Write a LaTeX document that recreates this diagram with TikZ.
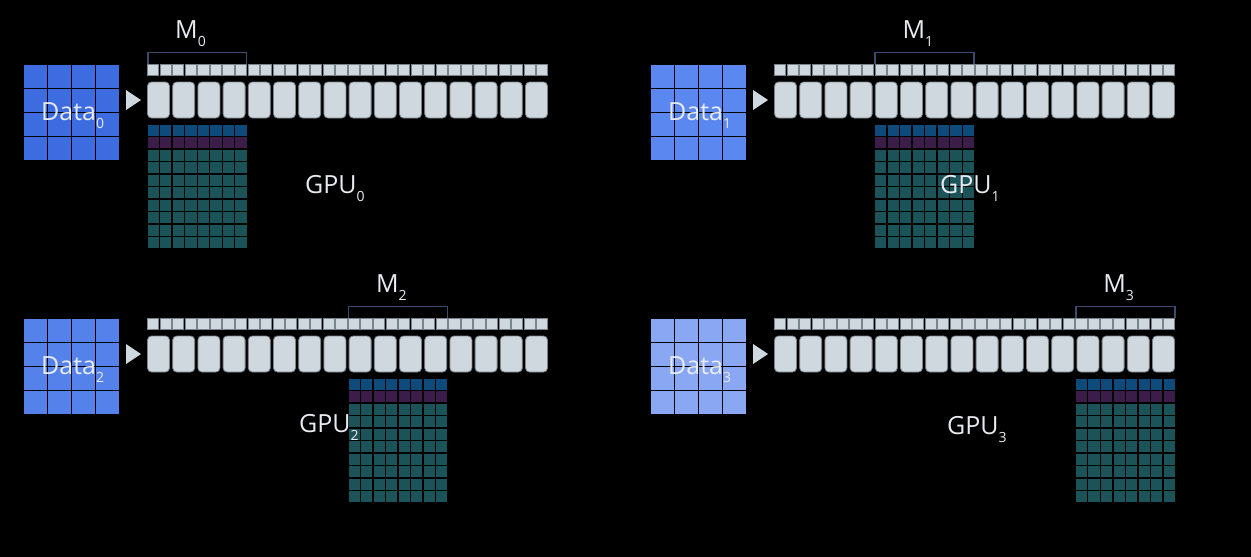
\documentclass[tikz,border=0pt]{standalone}
\usepackage{fontspec}
\setmainfont{Open Sans}
\usepackage{xcolor}
\usepackage{tikz}

\definecolor{layer}{HTML}{CFD8DF}
\definecolor{layeredge}{HTML}{7A828A}
\definecolor{brack}{HTML}{3B4B6B}
\definecolor{optrow}{HTML}{0E4A7A}
\definecolor{gradrow}{HTML}{3C1C48}
\definecolor{actrow}{HTML}{1C5358}
\definecolor{txt}{HTML}{E8ECF2}
\definecolor{dataA}{HTML}{3D6BE0}
\definecolor{dataB}{HTML}{5B87F0}
\definecolor{dataC}{HTML}{5582EA}
\definecolor{dataD}{HTML}{8AA7F4}

\newcommand{\sublabel}[2]{#1\raisebox{-0.32em}{\fontsize{14}{14}\selectfont #2}}

\tikzset{
  lbl/.style={font=\fontsize{25}{30}\selectfont, text=txt, inner sep=0pt, anchor=base west},
  tick/.style={fill=layer, draw=layeredge, line width=0.8pt},
  block/.style={fill=layer, draw=layeredge, line width=0.8pt, rounded corners=4pt},
  brace/.style={draw=brack, line width=1.6pt},
}

\begin{document}
\begin{tikzpicture}[x=1pt, y=-1pt]
  \fill[black] (0,0) rectangle (1251,557);
  \useasboundingbox (0,0) rectangle (1251,557);
  % one panel per GPU
  \foreach \px/\py/\m/\dcol/\i/\gx/\gy in {0/0/0/dataA/0/305/193, 627/0/4/dataB/1/313/193,
      0/254/8/dataC/2/299/178, 627/254/12/dataD/3/320/180} {
    \begin{scope}[shift={(\px,\py)}]
      % data batch
      \foreach \r in {0,...,3}
        \foreach \c in {0,...,3}
          \fill[\dcol] (24+\c*24, 65+\r*24) rectangle +(22.5,22.5);
      \node[lbl] (data\i) at (41,120) {\sublabel{Data}{\i}};
      \fill[layer] (126,90) -- (141,100) -- (126,110) -- cycle;
      % layers
      \foreach \k in {0,...,31}
        \draw[tick] (147.5+\k*12.55, 64.5) rectangle +(11.2,10.5);
      \foreach \k in {0,...,15}
        \draw[block] (147.5+\k*25.2, 82) rectangle +(22,36);
      % shard of this GPU
      \pgfmathsetmacro\xo{147+\m*25.1}
      \draw[brace] (\xo+0.75,64) -- (\xo+0.75,52.5) -- (\xo+99.5,52.5) -- (\xo+99.5,64);
      \node[lbl] (mlabel\i) at (\xo+28,38) {\sublabel{M}{\i}};
      \foreach \r in {0,...,9} {
        \ifnum\r=0 \def\rcol{optrow}\else\ifnum\r=1 \def\rcol{gradrow}\else\def\rcol{actrow}\fi\fi
        \foreach \c in {0,...,7}
          \fill[\rcol] (\xo+0.75+\c*12.53, 124.75+\r*12.5) rectangle +(11.2,11.2);
      }
      \node[lbl] (gpu\i) at (\gx,\gy) {\sublabel{GPU}{\i}};
    \end{scope}
  }
\end{tikzpicture}
\end{document}
